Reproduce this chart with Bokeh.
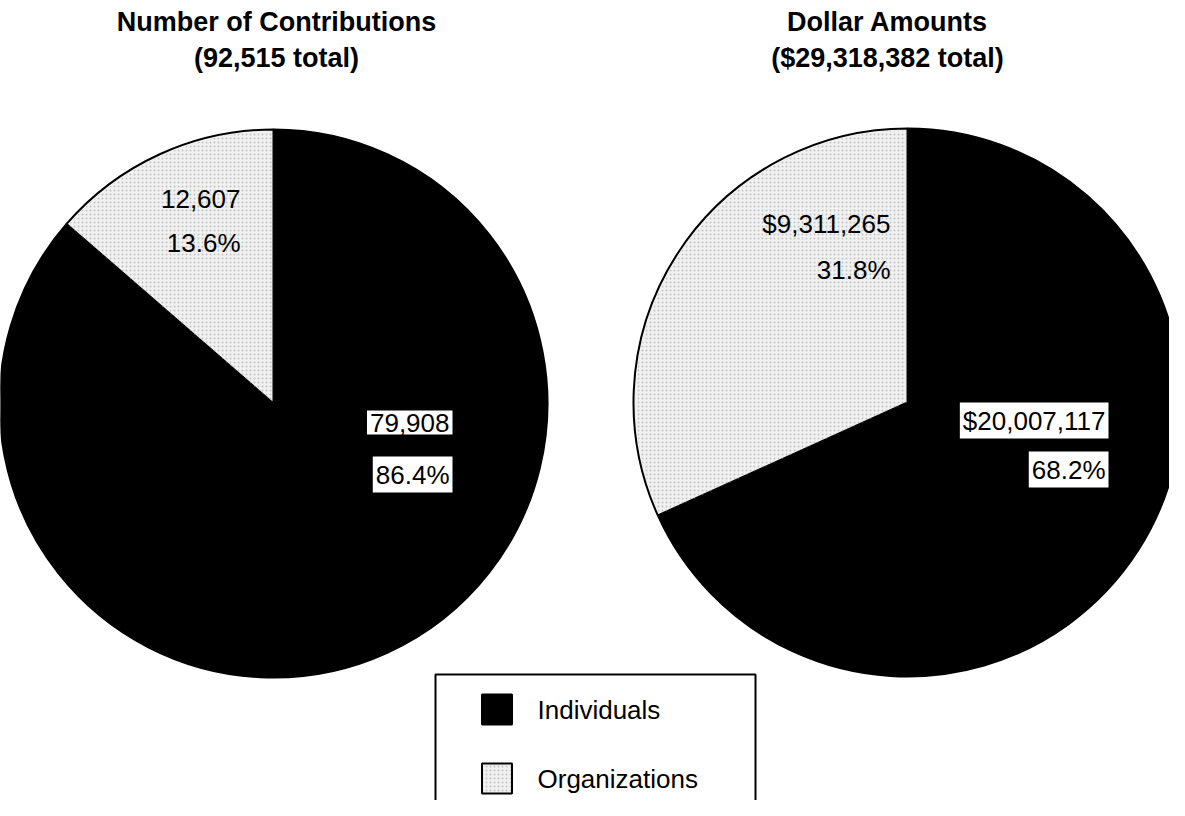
from bokeh.plotting import figure
from bokeh.models import ColumnDataSource, Range1d
from bokeh.embed import file_html
from bokeh.resources import INLINE
from bokeh.core.properties import value

# ---------------- data ----------------
categories = ["Individuals", "Organizations"]
colors = ["#000000", "#f1f1f1"]
count_values = [79908, 12607]
dollar_values = [20007117, 9311265]
chart_titles = ["Number of Contributions", "Dollar Amounts"]
value_prefix = ["", "$"]

# ---------------- layout (reference pixel coords, y from top) ----------------
W, H = 1169, 800
PAGE_H = 816
FONT = "Liberation Sans"

def Y(y):
    return PAGE_H - y

p = figure(width=W, height=H, output_backend="svg", toolbar_location=None,
           x_range=Range1d(8, 8 + W), y_range=Range1d(PAGE_H - 8 - H, PAGE_H - 8),
           min_border=0, background_fill_color="white", border_fill_color="white")
p.axis.visible = False
p.grid.visible = False
p.outline_line_color = None

pie_centers = [(281, 411), (915, 410)]
radius = 274
title_x = [284, 895]
title_y = [29, 65]
# label anchors: (org value, org pct, ind value, ind pct) as (right x, middle y)
label_pos = [
    [(248, 206), (248, 250), (460, 430), (460, 482)],
    [(898, 231), (898, 277), (1116, 428), (1116, 477)],
]

for k, vals in enumerate([count_values, dollar_values]):
    total = sum(vals)
    cx, cy = pie_centers[k]
    ind, org = vals
    org_end = 90 + 360.0 * org / total
    src = ColumnDataSource(dict(
        x=[cx, cx], y=[Y(cy), Y(cy)],
        start=[org_end, 90.0], end=[450.0, org_end],
        color=colors,
    ))
    p.wedge(x="x", y="y", radius=radius, start_angle="start", end_angle="end",
            start_angle_units="deg", end_angle_units="deg", direction="anticlock",
            fill_color="color", line_color="black", line_width=2, source=src)
    # stipple texture on organizations slice
    p.wedge(x=[cx], y=[Y(cy)], radius=radius - 2, start_angle=[90.0], end_angle=[org_end],
            start_angle_units="deg", end_angle_units="deg", direction="anticlock",
            fill_alpha=0, line_color=None, hatch_pattern=".", hatch_scale=4,
            hatch_color="#8c8c8c", hatch_weight=0.8, hatch_alpha=0.45)

    pre = value_prefix[k]
    texts_org = [f"{pre}{org:,}", f"{100.0 * org / total:.1f}%"]
    texts_ind = [f"{pre}{ind:,}", f"{100.0 * ind / total:.1f}%"]
    lp = label_pos[k]
    p.text(x=[lp[0][0], lp[1][0]], y=[Y(lp[0][1]), Y(lp[1][1])], text=texts_org,
           text_font=value(FONT), text_font_size="26px", text_color="black",
           text_align="right", text_baseline="middle")
    p.text(x=[lp[2][0], lp[3][0]], y=[Y(lp[2][1]), Y(lp[3][1])], text=texts_ind,
           text_font=value(FONT), text_font_size="26px", text_color="black",
           text_align="right", text_baseline="middle",
           background_fill_color="white", padding=3)

    # titles
    p.text(x=[title_x[k], title_x[k]], y=[Y(title_y[0]), Y(title_y[1])],
           text=[chart_titles[k], f"({pre}{total:,} total)"],
           text_font=value(FONT), text_font_size="27px", text_font_style="bold",
           text_color="black", text_align="center", text_baseline="middle")

# ---------------- legend ----------------
leg_left, leg_right, leg_top, leg_bottom = 443, 763, 682, 830
p.quad(left=[leg_left], right=[leg_right], top=[Y(leg_top)], bottom=[Y(leg_bottom)],
       fill_color="white", line_color="black", line_width=2)
leg_y = [717, 786]
p.rect(x=[504.5, 504.5], y=[Y(v) for v in leg_y], width=30, height=30,
       fill_color=colors, line_color="black", line_width=2)
p.rect(x=[504.5], y=[Y(leg_y[1])], width=28, height=28, fill_alpha=0, line_color=None,
       hatch_pattern=".", hatch_scale=4, hatch_color="#8c8c8c", hatch_weight=0.8,
       hatch_alpha=0.45)
p.text(x=[545, 545], y=[Y(v) for v in leg_y], text=categories,
       text_font=value(FONT), text_font_size="26px", text_color="black",
       text_align="left", text_baseline="middle")

open("out.html", "w").write(file_html(p, INLINE))
